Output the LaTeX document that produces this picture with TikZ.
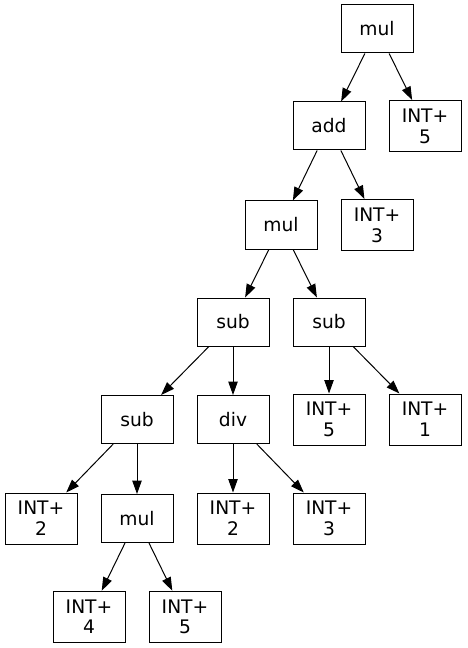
\documentclass[tikz,border=0pt]{standalone}
\usepackage{fontspec}
\setmainfont{DejaVu Sans}
\usetikzlibrary{arrows.meta}
\begin{document}
\begin{tikzpicture}[x=0.75pt,y=-0.75pt,
  box/.style={draw=black,line width=0.75pt,minimum width=54pt,inner sep=0pt,
    font=\fontsize{14}{15.5}\selectfont,align=center},
  one/.style={box,minimum height=36pt},
  two/.style={box,minimum height=38.25pt},
  edge/.style={draw=black,line width=0.75pt,-{Triangle[length=10pt,width=7pt]}}]
\useasboundingbox (0,0) rectangle (467,648);
\node[one] (n0) at (377,29) {mul};
\node[one] (n1) at (329,126) {add};
\node[two] (n2) at (425,126) {INT+\\5};
\node[one] (n3) at (281,225) {mul};
\node[two] (n4) at (377,225) {INT+\\3};
\node[one] (n5) at (233,322) {sub};
\node[one] (n6) at (329,322) {sub};
\node[one] (n7) at (137,419.5) {sub};
\node[one] (n8) at (233,419.5) {div};
\node[two] (n9) at (329,419.5) {INT+\\5};
\node[two] (n10) at (425,419.5) {INT+\\1};
\node[two] (n11) at (41,518.5) {INT+\\2};
\node[one] (n12) at (137,518.5) {mul};
\node[two] (n13) at (233,518.5) {INT+\\2};
\node[two] (n14) at (329,518.5) {INT+\\3};
\node[two] (n15) at (89,616.7) {INT+\\4};
\node[two] (n16) at (185,616.7) {INT+\\5};
\draw[edge] (n0) -- (n1);
\draw[edge] (n0) -- (n2);
\draw[edge] (n1) -- (n3);
\draw[edge] (n1) -- (n4);
\draw[edge] (n3) -- (n5);
\draw[edge] (n3) -- (n6);
\draw[edge] (n5) -- (n7);
\draw[edge] (n5) -- (n8);
\draw[edge] (n6) -- (n9);
\draw[edge] (n6) -- (n10);
\draw[edge] (n7) -- (n11);
\draw[edge] (n7) -- (n12);
\draw[edge] (n8) -- (n13);
\draw[edge] (n8) -- (n14);
\draw[edge] (n12) -- (n15);
\draw[edge] (n12) -- (n16);
\end{tikzpicture}
\end{document}
